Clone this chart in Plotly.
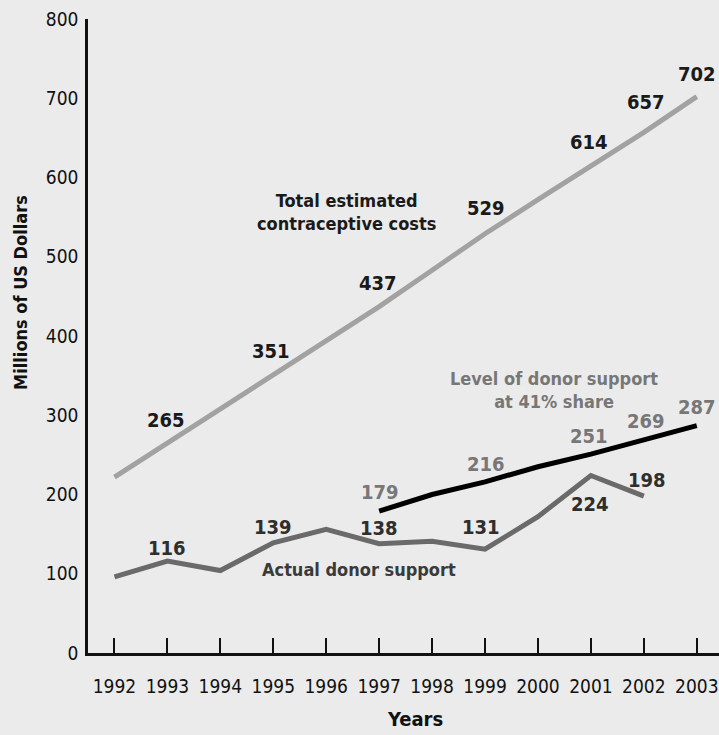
import plotly.graph_objects as go

# Contraceptive commodity costs vs donor support, 1992-2003 (millions of US dollars)
years = [1992, 1993, 1994, 1995, 1996, 1997, 1998, 1999, 2000, 2001, 2002, 2003]
total_costs = [222, 265, 308, 351, 394, 437, 483, 529, 572, 614, 657, 702]
actual_years = [1992, 1993, 1994, 1995, 1996, 1997, 1998, 1999, 2000, 2001, 2002]
actual_support = [96, 116, 104, 139, 156, 138, 141, 131, 172, 224, 198]
share_years = [1997, 1998, 1999, 2000, 2001, 2002, 2003]
share_support = [179, 200, 216, 235, 251, 269, 287]

# which points carry a value label
total_labelled = [1993, 1995, 1997, 1999, 2001, 2002, 2003]
actual_labelled = [1993, 1995, 1997, 1999, 2001, 2002]
share_labelled = [1997, 1999, 2001, 2002, 2003]

BG = "#ebebeb"
FONT = "DejaVu Sans Condensed"

fig = go.Figure()
fig.add_trace(go.Scatter(x=years, y=total_costs, mode="lines",
                         line=dict(color="#a2a2a2", width=5), hoverinfo="skip"))
fig.add_trace(go.Scatter(x=actual_years, y=actual_support, mode="lines",
                         line=dict(color="#6a6a6a", width=5), hoverinfo="skip"))
fig.add_trace(go.Scatter(x=share_years, y=share_support, mode="lines",
                         line=dict(color="#000000", width=5), hoverinfo="skip"))

annotations = []


def value_labels(xs, ys, picked, color, shifts):
    for x, y in zip(xs, ys):
        if x not in picked:
            continue
        dx, dy = shifts.get(x, (0, 0))
        annotations.append(dict(
            x=x, y=y, xref="x", yref="y", text=f"<b>{y}</b>", showarrow=False,
            xshift=dx, yshift=dy,
            font=dict(family=FONT, size=20, color=color)))


value_labels(years, total_costs, total_labelled, "#1a1a1a",
             {1993: (-1, 23), 1995: (-2, 24), 1997: (-1, 24), 1999: (1, 26),
              2001: (-2, 24), 2002: (2, 30), 2003: (0, 23)})
value_labels(actual_years, actual_support, actual_labelled, "#2e2e2e",
             {1993: (0, 13), 1995: (0, 16), 1997: (0, 16), 1999: (-4, 22),
              2001: (-1, -29), 2002: (3, 16)})
value_labels(share_years, share_support, share_labelled, "#777777",
             {1997: (1, 19), 1999: (1, 18), 2001: (-2, 18), 2002: (2, 19),
              2003: (0, 19)})

annotations += [
    dict(x=1996.39, y=557, xref="x", yref="y", showarrow=False,
         text="<b>Total estimated<br>contraceptive costs</b>",
         font=dict(family=FONT, size=18, color="#1a1a1a")),
    dict(x=2000.31, y=332, xref="x", yref="y", showarrow=False,
         text="<b>Level of donor support<br>at 41% share</b>",
         font=dict(family=FONT, size=18, color="#777777")),
    dict(x=1996.61, y=106, xref="x", yref="y", showarrow=False,
         text="<b>Actual donor support</b>",
         font=dict(family=FONT, size=18, color="#3a3a3a")),
    # axis titles
    dict(x=0.518, y=0, xref="paper", yref="paper", yshift=-66,
         xanchor="center", yanchor="middle", showarrow=False,
         text="<b>Years</b>", font=dict(family=FONT, size=20, color="#111111")),
    dict(x=0, y=0.568, xref="paper", yref="paper", xshift=-67,
         xanchor="center", yanchor="middle", showarrow=False,
         textangle=-90, text="<b>Millions of US Dollars</b>",
         font=dict(family=FONT, size=18, color="#111111")),
]

fig.update_layout(
    width=719, height=735,
    margin=dict(l=88, r=0, t=19, b=82),
    paper_bgcolor=BG, plot_bgcolor=BG,
    showlegend=False,
    font=dict(family=FONT, color="#111111"),
    annotations=annotations,
    xaxis=dict(
        range=[1991.5, 2003.42], tickmode="array", tickvals=years,
        ticktext=[str(y) for y in years],
        ticks="inside", ticklen=15, tickwidth=2, tickcolor="#111111",
        showline=True, linecolor="#111111", linewidth=2.5,
        showgrid=False, zeroline=False,
        tickfont=dict(family=FONT, size=19, color="#111111"),
        ticklabelstandoff=14, ticklabeloverflow="allow",
    ),
    yaxis=dict(
        range=[0, 800], tickmode="array", tickvals=list(range(0, 801, 100)),
        ticks="", showline=True, linecolor="#111111", linewidth=2.5,
        showgrid=False, zeroline=False,
        tickfont=dict(family=FONT, size=19, color="#111111"),
        ticklabelstandoff=3,
    ),
)

fig.write_html("out.html")
